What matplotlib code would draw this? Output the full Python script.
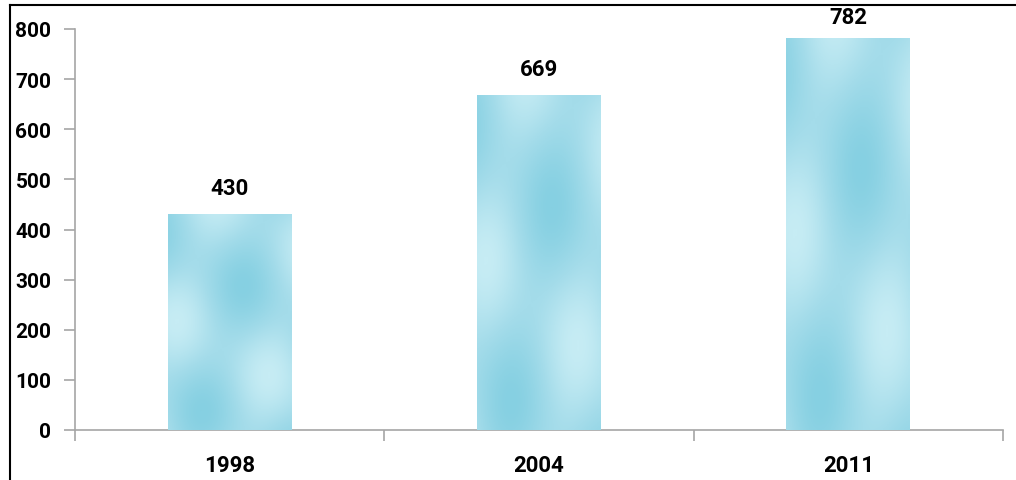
import matplotlib
matplotlib.use("Agg")
import matplotlib.pyplot as plt
import numpy as np
from matplotlib.lines import Line2D
from matplotlib.colors import LinearSegmentedColormap

categories = ["1998", "2004", "2011"]
values = [430, 669, 782]
yticks = [0, 100, 200, 300, 400, 500, 600, 700, 800]

plt.rcParams['font.family'] = ['Roboto', 'DejaVu Sans']

fig = plt.figure(figsize=(10.16, 4.81), dpi=100)
ax = fig.add_axes([75/1016, 1-431/481, (1003-75)/1016, (431-30)/481])

x = np.arange(len(categories))
bars = ax.bar(x, values, width=0.4, color="#9ad8e6", zorder=2)

# soft water-like shading clipped to each bar
cmap = LinearSegmentedColormap.from_list("water", ["#c6ecf4", "#a4dcea", "#86d0e2"])
yy, xx = np.mgrid[0:1:256j, 0:1:64j]
shade = 0.5 + 0.25 * np.sin(yy * 9.0 + xx * 3.0) + 0.25 * np.sin(xx * 7.0 - yy * 4.0)
for b in bars:
    x0, y0 = b.get_x(), b.get_y()
    w, h = b.get_width(), b.get_height()
    im = ax.imshow(shade, cmap=cmap, extent=[x0, x0 + w, y0, y0 + h],
                   aspect="auto", origin="lower", zorder=3, vmin=0, vmax=1)
    im.set_clip_path(b)

for xi, v in zip(x, values):
    ax.text(xi, min(v + 30, 802), str(v), ha="center", va="bottom", fontsize=16,
            fontweight="bold", color="black", clip_on=False)

ax.set_xlim(-0.5, len(categories) - 0.5)
ax.set_ylim(0, 800)
ax.set_yticks(yticks)
ax.set_yticklabels([str(t) for t in yticks], fontsize=15, fontweight="bold")
ax.set_xticks(x)
ax.set_xticklabels(categories, fontsize=16, fontweight="bold")
ax.tick_params(axis="x", length=0, pad=17)
ax.set_xticks(np.arange(-0.5, len(categories) + 0.5, 1.0), minor=True)
ax.tick_params(axis="x", which="minor", length=8, color="#a6a6a6", width=1.2, direction="out")
ax.tick_params(axis="y", length=8, color="#a6a6a6", width=1.2, pad=9)

for s in ["top", "right"]:
    ax.spines[s].set_visible(False)
for s in ["left", "bottom"]:
    ax.spines[s].set_color("#a6a6a6")
    ax.spines[s].set_linewidth(1.2)

# figure border (top and left)
fig.add_artist(Line2D([10/1016, 1.0], [1-6/481, 1-6/481], transform=fig.transFigure,
                      color="black", linewidth=1.5))
fig.add_artist(Line2D([10/1016, 10/1016], [0, 1-6/481], transform=fig.transFigure,
                      color="black", linewidth=1.5))

fig.savefig("out.png", dpi=100)
